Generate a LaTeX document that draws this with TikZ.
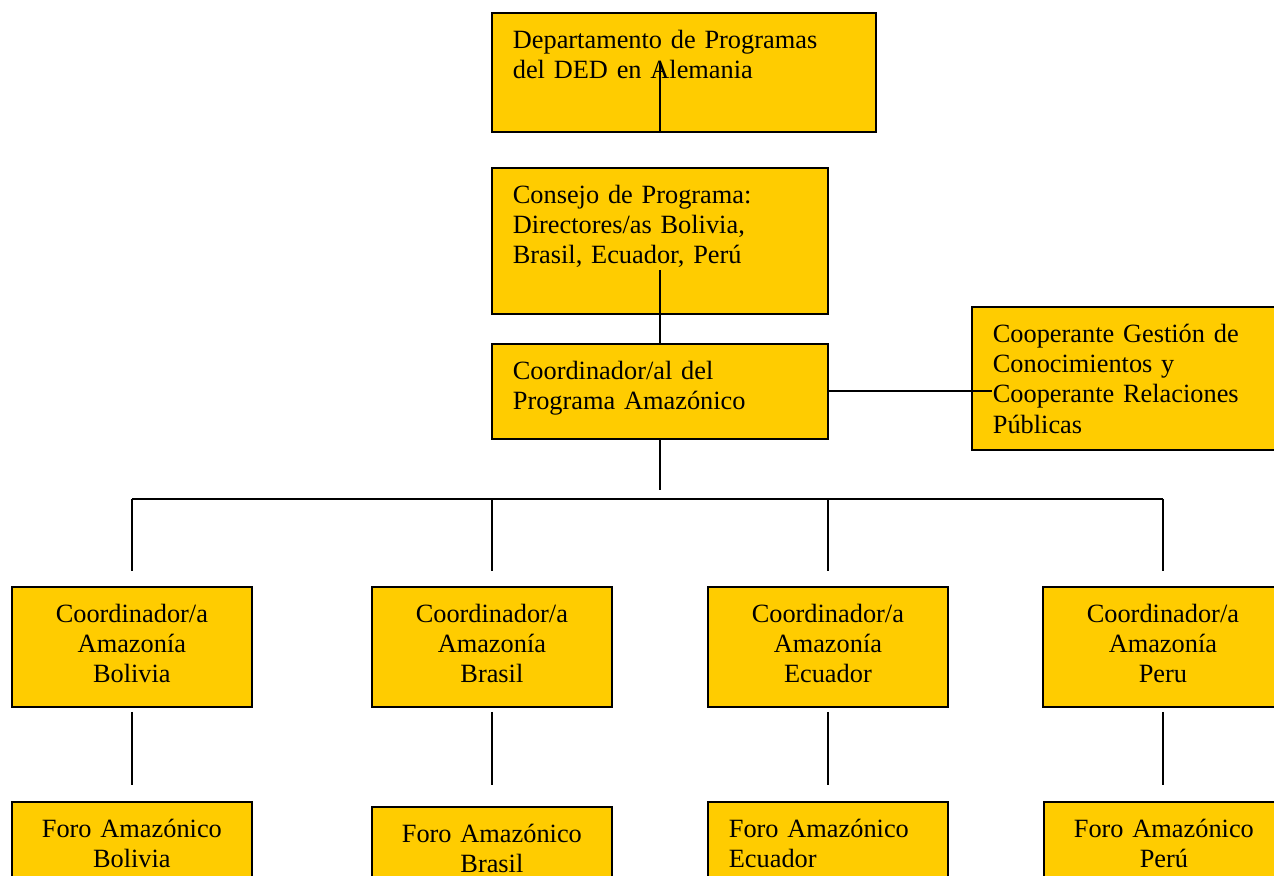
\documentclass[tikz,border=0pt]{standalone}
\usepackage{fontspec}
\setmainfont{Liberation Serif}

\definecolor{amarillo}{RGB}{255,204,0}

\begin{document}
\begin{tikzpicture}[
		x=0.016cm, y=-0.016cm,
		caja/.style={draw, fill=amarillo, line width=0.9pt, anchor=north west, outer sep=0pt,
			inner xsep=9.5pt, inner ysep=0pt, text height=16pt, align=left,
			font={\fontsize{12}{13.8}\selectfont}},
		mitte/.style={caja, align=center, text width=90.2pt, text depth=38.6pt},
		linie/.style={line width=0.9pt}]
		
		\useasboundingbox (0,0) rectangle (1274,876);
		\clip (0,0) rectangle (1274,876);
		
		%oben
		\node[caja, text width=155.8pt, text depth=38.2pt] (depto) at (492,13) {Departamento de Programas\\del DED en Alemania};
		\node[caja, text width=133.9pt, text depth=50.5pt] (consejo) at (492,168) {Consejo de Programa:\\Directores/as Bolivia,\\Brasil, Ecuador, Perú};
		\node[caja, text width=133.9pt, text depth=27.2pt] (coord) at (492,344) {Coordinador/al del\\Programa Amazónico};
		\node[caja, text width=123pt, text depth=49.1pt] (coop) at (972,307) {Cooperante Gestión de\\Conocimientos y\\Cooperante Relaciones\\Públicas};
		
		%koordinatoren
		\foreach \x/\name/\land in {12/bol/Bolivia, 372/bra/Brasil, 708/ecu/Ecuador, 1043/per/Peru}
		\node[mitte] (c\name) at (\x,587) {Coordinador/a\\Amazonía\\\land};
		
		%foren
		\node[mitte] (fbol) at (12,802) {Foro Amazónico\\Bolivia};
		\node[mitte] (fbra) at (372,807) {Foro Amazónico\\Brasil};
		\node[mitte, align=left] (fecu) at (708,802) {Foro Amazónico\\Ecuador};
		\node[mitte] (fper) at (1044,802) {Foro Amazónico\\Perú};
		
		%linien
		\draw[linie] (depto.south -| consejo.north) -- ++(0,-71);
		\draw[linie] (coord.north) -- ++(0,-74);
		\draw[linie] (coord.south) -- ++(0,51);
		\draw[linie] (coord.east) -- (coord.east -| coop.west) -- ++(20,0);
		
		\path (coord.south) ++(0,60) coordinate (barra);
		\draw[linie] (barra -| cbol.north) -- (barra -| cper.north);
		\foreach \name in {bol,bra,ecu,per}
		\draw[linie] (barra -| c\name.north) -- ++(0,72);
		
		\foreach \name in {bol,bra,ecu,per}
		\draw[linie] (c\name.south) ++(0,5) -- ++(0,73);
		
	\end{tikzpicture}
\end{document}
